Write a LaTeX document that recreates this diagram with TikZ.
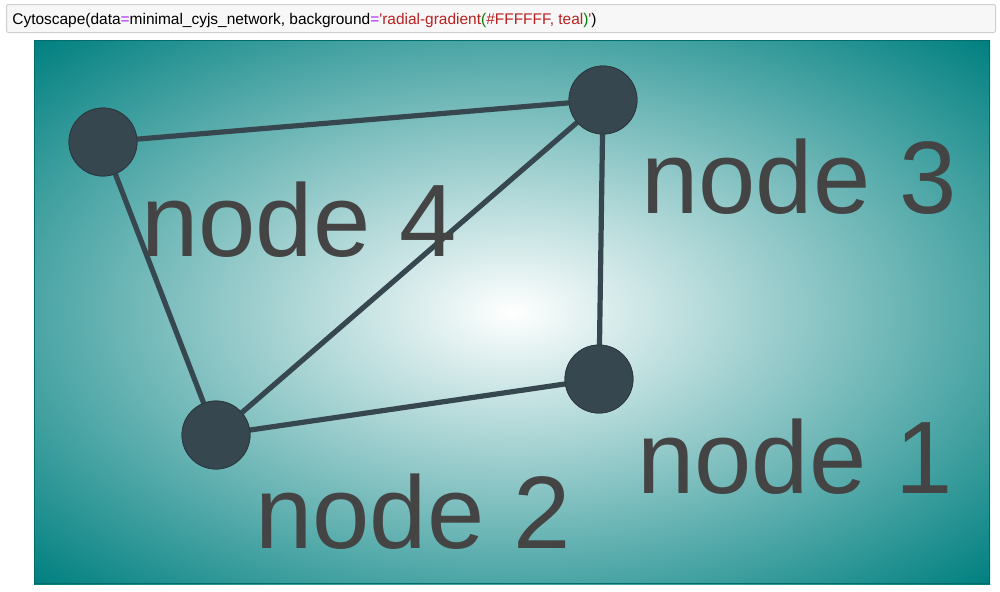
\documentclass[tikz,border=0pt]{standalone}
\usepackage{fontspec}
\setmainfont{Liberation Sans}
% pgf maps the central 50bp square of a shading onto the path's box:
% 25bp = half width/height, so the corner ellipse is at 35.355bp
\pgfdeclareradialshading{cssrad}{\pgfpoint{0bp}{0bp}}{color(0bp)=(white); color(35.355bp)=(teal); color(50bp)=(teal)}
\definecolor{nodecol}{HTML}{37474F}
\definecolor{labcol}{HTML}{444444}
\definecolor{cellfill}{HTML}{F7F7F7}
\definecolor{cellline}{HTML}{CFCFCF}
\definecolor{pyop}{HTML}{AA22FF}
\definecolor{pystr}{HTML}{BA2121}
\definecolor{pypar}{HTML}{008000}
\tikzset{
  netnode/.style={circle, fill=nodecol, draw=nodecol!80!black, line width=0.4pt, minimum size=34pt, inner sep=0pt},
  netedge/.style={draw=nodecol, line width=2.6pt},
  netlabel/.style={anchor=base west, inner sep=0pt, text=labcol, font=\fontsize{51.5pt}{51.5pt}\selectfont},
}
\begin{document}
\begin{tikzpicture}[x=0.5pt, y=-0.5pt]
\useasboundingbox (0,0) rectangle (1000,591);
\fill[white] (0,0) rectangle (1000,591);
% code cell
\draw[fill=cellfill, draw=cellline, line width=0.5pt, rounded corners=1pt] (6.5,4.5) rectangle (995.5,32.5);
\node[anchor=base west, inner sep=0pt, font=\fontsize{7.73pt}{9pt}\selectfont] (code) at (12,24)
 {Cytoscape(data\textcolor{pyop}{=}minimal\_cyjs\_network, background\textcolor{pyop}{=}\textcolor{pystr}{\textquotesingle radial-gradient}\textcolor{pypar}{(}\textcolor{pystr}{\#FFFFFF, teal}\textcolor{pypar}{)}\textcolor{pystr}{\textquotesingle})};
% panel: farthest-corner radial gradient
\fill[shading=cssrad] (34,40) rectangle (990,584);
\draw[teal!85!black, line width=0.6pt] (34.5,40.5) rectangle (989.5,583.5);
% nodes
\node[netnode] (n4) at (103,142) {};
\node[netnode] (n3) at (603,100) {};
\node[netnode] (n1) at (599,379) {};
\node[netnode] (n2) at (216,435) {};
% edges
\path[netedge] (n4.center) -- (n3.center);
\path[netedge] (n4.center) -- (n2.center);
\path[netedge] (n2.center) -- (n3.center);
\path[netedge] (n3.center) -- (n1.center);
\path[netedge] (n2.center) -- (n1.center);
% redraw nodes on top of edges
\node[netnode] at (n4) {};
\node[netnode] at (n3) {};
\node[netnode] at (n1) {};
\node[netnode] at (n2) {};
% labels
\node[netlabel] (l4) at (141,256) {node 4};
\node[netlabel] (l3) at (641,213) {node 3};
\node[netlabel] (l1) at (637,493) {node 1};
\node[netlabel] (l2) at (255,548) {node 2};
\end{tikzpicture}
\end{document}
